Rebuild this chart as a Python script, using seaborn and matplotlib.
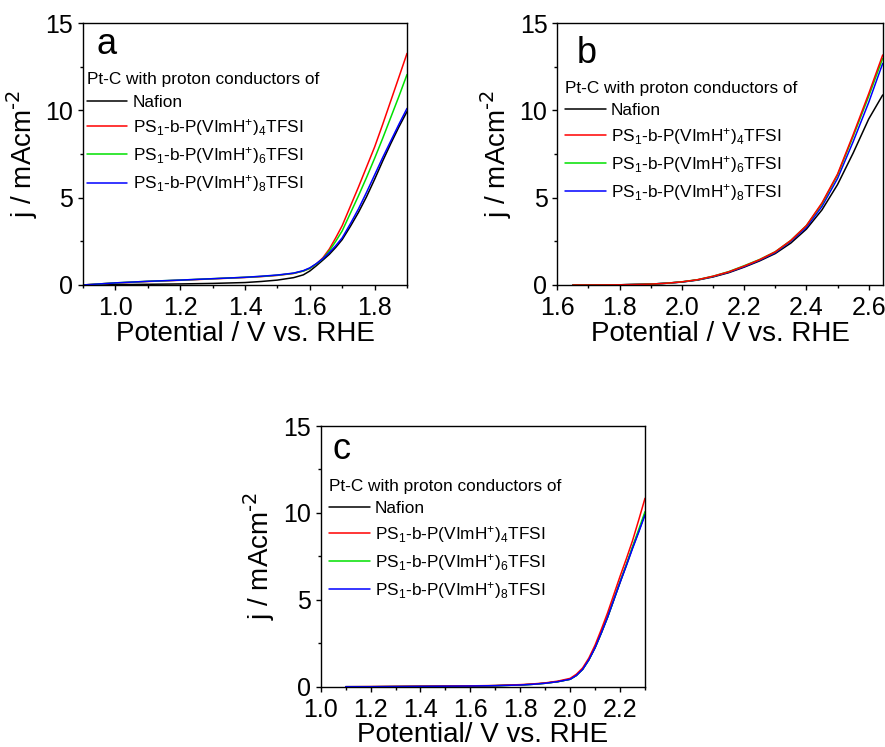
import matplotlib
matplotlib.use("Agg")
import matplotlib.pyplot as plt
import seaborn as sns
import pandas as pd

# ---- Panel a: Pt-C, 0.9-1.9 V ----
a_potential = [0.9, 0.95, 1.0, 1.1, 1.2, 1.3, 1.4, 1.45, 1.5, 1.55, 1.58, 1.6, 1.62, 1.64,
               1.66, 1.68, 1.7, 1.725, 1.75, 1.775, 1.8, 1.825, 1.85, 1.875, 1.9]
a_nafion = [0, 0.01, 0.02, 0.04, 0.06, 0.09, 0.14, 0.2, 0.28, 0.42, 0.58, 0.8, 1.1, 1.42,
            1.75, 2.15, 2.6, 3.35, 4.15, 5.05, 6.05, 7.1, 8.1, 9.05, 9.93]
a_ps4 = [0, 0.06, 0.11, 0.2, 0.27, 0.35, 0.43, 0.48, 0.55, 0.66, 0.8, 0.95, 1.2, 1.55,
         2.05, 2.7, 3.4, 4.5, 5.6, 6.75, 7.9, 9.2, 10.55, 11.9, 13.26]
a_ps6 = [0, 0.06, 0.12, 0.21, 0.28, 0.36, 0.44, 0.49, 0.56, 0.67, 0.8, 0.95, 1.2, 1.5,
         1.95, 2.5, 3.1, 4.1, 5.1, 6.15, 7.25, 8.4, 9.6, 10.8, 12.05]
a_ps8 = [0, 0.06, 0.12, 0.21, 0.28, 0.36, 0.44, 0.5, 0.57, 0.68, 0.82, 0.98, 1.22, 1.5,
         1.85, 2.25, 2.7, 3.5, 4.35, 5.3, 6.3, 7.3, 8.25, 9.2, 10.11]

# ---- Panel b: 1.6-2.65 V ----
b_potential = [1.65, 1.7, 1.8, 1.9, 1.95, 2.0, 2.05, 2.1, 2.15, 2.2, 2.25, 2.3, 2.35, 2.4,
               2.45, 2.5, 2.55, 2.6, 2.645]
b_nafion = [0, 0, 0.01, 0.05, 0.1, 0.17, 0.28, 0.46, 0.7, 1.02, 1.38, 1.8, 2.4, 3.2,
            4.3, 5.75, 7.55, 9.5, 10.88]
b_ps4 = [0, 0, 0.01, 0.05, 0.1, 0.18, 0.3, 0.5, 0.75, 1.08, 1.45, 1.9, 2.55, 3.4,
         4.7, 6.35, 8.6, 10.95, 13.17]
b_ps6 = [0, 0, 0.01, 0.05, 0.1, 0.18, 0.3, 0.5, 0.76, 1.1, 1.46, 1.9, 2.55, 3.4,
         4.65, 6.3, 8.5, 10.8, 12.98]
b_ps8 = [0, 0, 0.01, 0.05, 0.1, 0.17, 0.29, 0.48, 0.73, 1.05, 1.42, 1.85, 2.5, 3.3,
         4.5, 6.1, 8.2, 10.45, 12.69]

# ---- Panel c: 1.0-2.3 V ----
c_potential = [1.1, 1.2, 1.3, 1.4, 1.5, 1.6, 1.7, 1.8, 1.85, 1.9, 1.95, 2.0, 2.025, 2.05,
               2.075, 2.1, 2.125, 2.15, 2.175, 2.2, 2.225, 2.25, 2.275, 2.3]
c_nafion = [0, 0, 0.01, 0.02, 0.03, 0.04, 0.06, 0.1, 0.14, 0.2, 0.29, 0.43, 0.65, 1.0,
            1.55, 2.25, 3.1, 4.0, 5.0, 6.0, 7.0, 8.0, 8.95, 9.95]
c_ps4 = [0, 0.01, 0.02, 0.03, 0.04, 0.05, 0.07, 0.12, 0.16, 0.22, 0.32, 0.48, 0.72, 1.08,
         1.65, 2.4, 3.3, 4.25, 5.3, 6.35, 7.35, 8.4, 9.6, 10.84]
c_ps6 = [0, 0, 0.01, 0.02, 0.03, 0.04, 0.06, 0.1, 0.14, 0.2, 0.29, 0.43, 0.65, 1.0,
         1.55, 2.25, 3.1, 4.0, 5.0, 6.05, 7.0, 8.05, 9.05, 10.07]
c_ps8 = [0, 0, 0.01, 0.02, 0.03, 0.04, 0.06, 0.1, 0.14, 0.2, 0.29, 0.43, 0.65, 1.0,
         1.55, 2.25, 3.1, 4.0, 5.0, 6.0, 6.95, 7.95, 8.9, 9.88]

series_labels = [
    "Nafion",
    r"PS$_1$-b-P(VImH$^{+}$)$_4$TFSI",
    r"PS$_1$-b-P(VImH$^{+}$)$_6$TFSI",
    r"PS$_1$-b-P(VImH$^{+}$)$_8$TFSI",
]
series_colors = ["#000000", "#FF0000", "#00E000", "#0000FF"]
legend_title = "Pt-C with proton conductors of"
y_label = r"j / mAcm$^{\text{-2}}$"

sns.set_theme(style="ticks")
plt.rcParams.update({
    "font.family": ["Liberation Sans", "DejaVu Sans"],
    "mathtext.default": "regular",
    "axes.linewidth": 1.0,
    "axes.edgecolor": "black",
    "xtick.direction": "out",
    "ytick.direction": "out",
    "xtick.major.size": 3.6,
    "ytick.major.size": 3.6,
    "xtick.minor.size": 2.2,
    "ytick.minor.size": 2.2,
    "xtick.major.width": 1.0,
    "ytick.major.width": 1.0,
    "xtick.minor.width": 1.0,
    "ytick.minor.width": 1.0,
    "xtick.color": "black",
    "ytick.color": "black",
    "text.color": "black",
    "axes.labelcolor": "black",
})


def long_frame(potential, columns):
    frames = []
    for label, values in zip(series_labels, columns):
        frames.append(pd.DataFrame({"E": potential, "j": values, "sample": label}))
    return pd.concat(frames, ignore_index=True)


fig = plt.figure(figsize=(8.85, 7.47), dpi=100)

panels = [
    dict(rect=[0.0938, 0.6185, 0.3661, 0.3507], pot=a_potential,
         cols=[a_nafion, a_ps4, a_ps6, a_ps8], xlim=(0.9, 1.9),
         xticks=[1.0, 1.2, 1.4, 1.6, 1.8], letter="a", letter_xy=(0.043, 0.882),
         leg_xy=(0.012, 0.812), order=[0, 1, 2, 3], xlabel="Potential / V vs. RHE"),
    dict(rect=[0.6297, 0.6185, 0.3677, 0.3507], pot=b_potential,
         cols=[b_nafion, b_ps4, b_ps6, b_ps8], xlim=(1.6, 2.645),
         xticks=[1.6, 1.8, 2.0, 2.2, 2.4, 2.6], letter="b", letter_xy=(0.06, 0.846),
         leg_xy=(0.024, 0.778), order=[0, 3, 2, 1], xlabel="Potential / V vs. RHE"),
    dict(rect=[0.3624, 0.0807, 0.3664, 0.3490], pot=c_potential,
         cols=[c_nafion, c_ps4, c_ps6, c_ps8], xlim=(1.0, 2.3),
         xticks=[1.0, 1.2, 1.4, 1.6, 1.8, 2.0, 2.2], letter="c", letter_xy=(0.037, 0.872),
         leg_xy=(0.027, 0.796), order=[0, 2, 1, 3], xlabel="Potential/ V vs. RHE"),
]

for p in panels:
    ax = fig.add_axes(p["rect"])
    df = long_frame(p["pot"], p["cols"])
    # draw in a chosen stacking order, then build the legend in the fixed order
    for idx in p["order"]:
        sub = df[df["sample"] == series_labels[idx]]
        sns.lineplot(data=sub, x="E", y="j", color=series_colors[idx], lw=1.1,
                     ax=ax, legend=False, sort=False)
    ax.set_xlim(*p["xlim"])
    ax.set_ylim(0, 15)
    ax.set_xticks(p["xticks"])
    ax.set_xticklabels([f"{t:.1f}" for t in p["xticks"]])
    ax.set_yticks([0, 5, 10, 15])
    ax.xaxis.set_minor_locator(matplotlib.ticker.MultipleLocator(0.1))
    ax.yaxis.set_minor_locator(matplotlib.ticker.MultipleLocator(2.5))
    ax.tick_params(axis="x", which="major", labelsize=18, pad=4.2)
    ax.tick_params(axis="y", which="major", labelsize=18, pad=3.5)
    ax.tick_params(top=False, right=False, which="both")
    for s in ax.spines.values():
        s.set_visible(True)
        s.set_linewidth(1.0)
    ax.set_xlabel(p["xlabel"], fontsize=20, labelpad=0.5)
    ax.set_ylabel(y_label, fontsize=20, labelpad=4)
    ax.text(p["letter_xy"][0], p["letter_xy"][1], p["letter"], transform=ax.transAxes,
            fontsize=26, ha="left", va="baseline")

    handles = [matplotlib.lines.Line2D([], [], color=c, lw=1.1) for c in series_colors]
    ax.legend(handles, series_labels, title=legend_title, loc="upper left",
              bbox_to_anchor=p["leg_xy"], frameon=False, fontsize=12.4,
              title_fontsize=12.4, alignment="left", borderpad=0, borderaxespad=0,
              handlelength=2.35, handletextpad=0.3, labelspacing=0.42)

fig.savefig("out.png", dpi=100)
